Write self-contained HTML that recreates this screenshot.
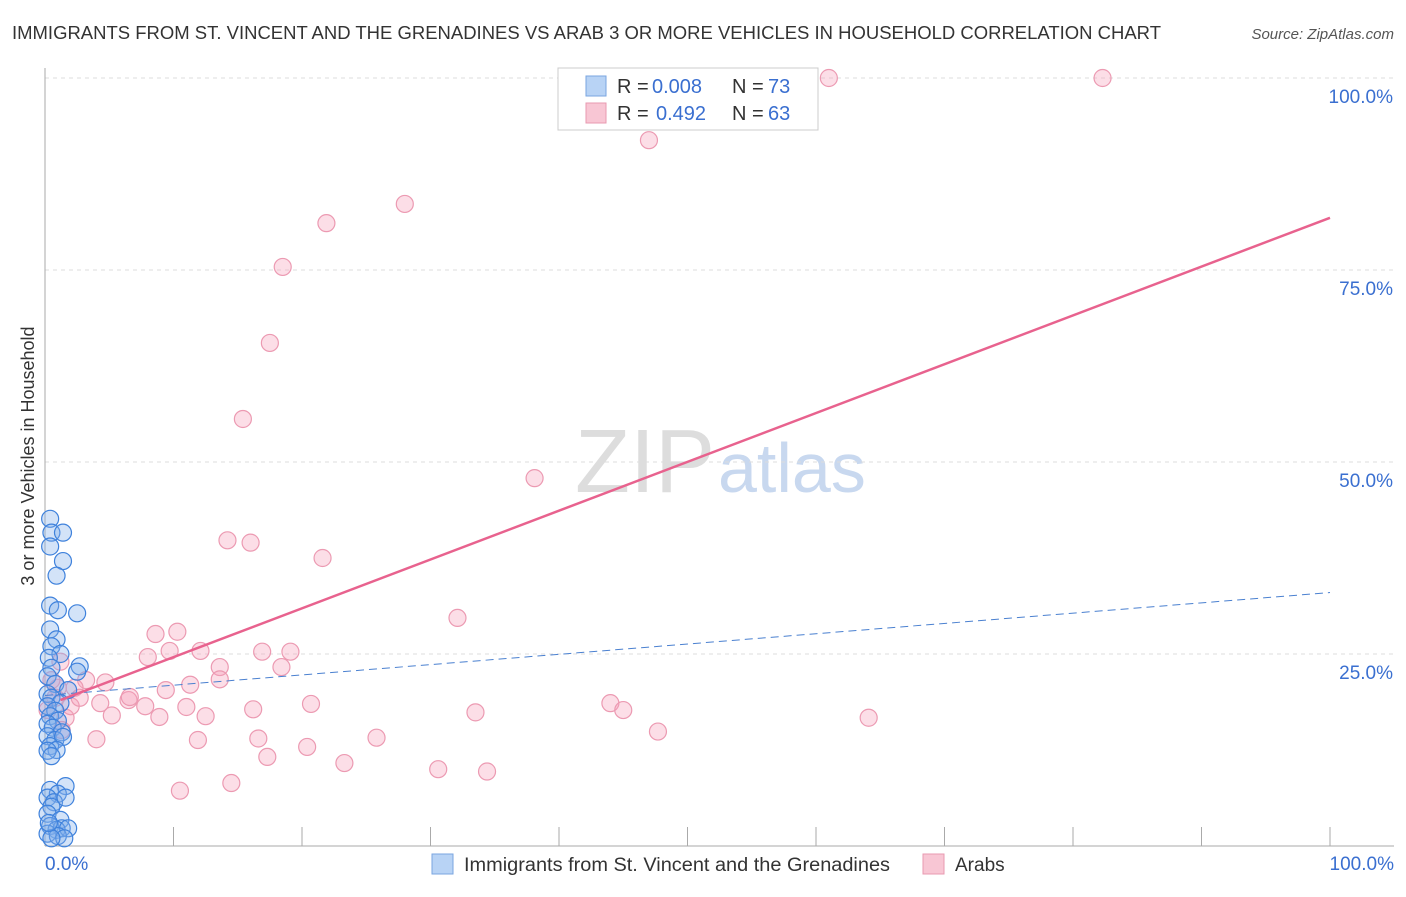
<!DOCTYPE html>
<html><head><meta charset="utf-8"><style>
body{margin:0;background:#fff;font-family:"Liberation Sans",sans-serif}
svg text{font-family:"Liberation Sans",sans-serif}
</style></head><body>
<svg id="c" width="1406" height="892" xmlns="http://www.w3.org/2000/svg">
<text x="12" y="39" font-size="18" fill="#333" textLength="1149" lengthAdjust="spacingAndGlyphs">IMMIGRANTS FROM ST. VINCENT AND THE GRENADINES VS ARAB 3 OR MORE VEHICLES IN HOUSEHOLD CORRELATION CHART</text>
<text x="1394" y="39" font-size="15" fill="#555" font-style="italic" text-anchor="end">Source: ZipAtlas.com</text>
<text x="34" y="456" font-size="18" fill="#333" text-anchor="middle" transform="rotate(-90 34 456)">3 or more Vehicles in Household</text>
<text x="715" y="492" font-size="90" fill="#ddd" text-anchor="end" font-family="Liberation Serif">ZIP</text>
<text x="718" y="492" font-size="70" fill="#c8d8ef">atlas</text>
<g id="grid"></g><g id="axes"></g><g id="pts"></g><g id="lines"></g>
<g>
<rect x="558" y="68" width="260" height="62" fill="#fff" stroke="#ccc"/>
<rect x="586" y="76" width="20" height="20" fill="#b8d3f5" stroke="#7aa6e0"/>
<text x="617" y="93" font-size="20" fill="#333">R =</text>
<text x="652" y="93" font-size="20" fill="#3a6fd0">0.008</text>
<text x="732" y="93" font-size="20" fill="#333">N =</text>
<text x="768" y="93" font-size="20" fill="#3a6fd0">73</text>
<rect x="586" y="103" width="20" height="20" fill="#f8c6d4" stroke="#e89ab0"/>
<text x="617" y="120" font-size="20" fill="#333">R =</text>
<text x="656" y="120" font-size="20" fill="#3a6fd0">0.492</text>
<text x="732" y="120" font-size="20" fill="#333">N =</text>
<text x="768" y="120" font-size="20" fill="#3a6fd0">63</text>
</g>
<g>
<rect x="432" y="854" width="21" height="20" fill="#b8d3f5" stroke="#7aa6e0"/>
<text x="464" y="871" font-size="19" fill="#333" textLength="426" lengthAdjust="spacingAndGlyphs">Immigrants from St. Vincent and the Grenadines</text>
<rect x="923" y="854" width="21" height="20" fill="#f8c6d4" stroke="#e89ab0"/>
<text x="955" y="871" font-size="19" fill="#333">Arabs</text>
</g>
</svg>
<script>
const yTicks=[25,50,75,100];
const yTickLabels=["25.0%","50.0%","75.0%","100.0%"];
const xTickLabels=["0.0%","100.0%"];
const pinkX=[61.0,82.3,47.0,28.0,21.9,18.5,17.5,15.4,38.1,14.2,16.0,21.6,32.1,10.3,8.6,8.0,9.7,12.1,16.9,19.1,13.6,18.4,13.6,11.3,9.4,20.7,6.5,4.7,3.2,6.6,7.8,4.3,16.2,11.0,12.5,8.9,5.2,33.5,44.0,45.0,47.7,64.1,16.6,11.9,4.0,25.8,17.3,23.3,20.4,30.6,34.4,14.5,10.5,1.2,1.0,0.8,1.6,0.5,2.0,1.3,0.2,2.3,2.7];
const pinkY=[100,100,91.9,83.6,81.1,75.4,65.5,55.6,47.9,39.8,39.5,37.5,29.7,27.9,27.6,24.6,25.4,25.4,25.3,25.3,23.3,23.3,21.7,21.0,20.3,18.5,19.0,21.3,21.6,19.4,18.2,18.6,17.8,18.1,16.9,16.8,17.0,17.4,18.6,17.7,14.9,16.7,14.0,13.8,13.9,14.1,11.6,10.8,12.9,10.0,9.7,8.2,7.2,24.0,20.6,19.3,16.7,21.6,18.2,15.1,17.7,20.6,19.3];
const blueX=[0.4,0.5,1.4,0.4,1.4,0.9,0.4,1.0,2.5,0.4,0.9,0.5,1.2,0.3,2.7,0.5,2.5,0.2,0.8,1.8,0.2,0.5,1.2,0.2,0.8,0.4,1.0,0.2,0.6,1.3,0.2,0.8,1.4,0.4,0.9,0.2,0.5,1.6,0.4,1.0,0.2,0.7,1.6,0.5,0.2,1.2,0.4,1.3,0.9,1.8,0.2,1.0,1.5,0.5,0.3];
const blueY=[42.6,40.8,40.8,39.0,37.1,35.2,31.3,30.7,30.3,28.2,26.9,26.0,25.0,24.5,23.4,23.2,22.7,22.1,21.1,20.3,19.8,19.3,18.6,18.2,17.6,16.9,16.3,15.9,15.4,14.8,14.3,13.8,14.2,13.0,12.5,12.4,11.7,7.8,7.3,6.8,6.3,5.7,6.3,5.1,4.2,3.4,2.6,2.3,2.1,2.3,1.6,1.3,1.0,1.0,3.0];
const pinkTrend=[1.2,19.0,100,81.8];
const blueTrend=[0,19.6,100,33.0];
const NS="http://www.w3.org/2000/svg";
const sx=v=>45+v*12.85, sy=v=>846-v*7.68;
function mk(p,t,a){const e=document.createElementNS(NS,t);for(const k in a)e.setAttribute(k,a[k]);document.getElementById(p).appendChild(e);return e;}
yTicks.forEach((t,i)=>{
 const g=mk('grid','line',{x1:45,x2:1394,y1:sy(t),y2:sy(t),stroke:'#ddd','stroke-dasharray':'4 4'});
 
 
 const l=mk('grid','text',{x:1393,y:sy(t)+25,'font-size':19,fill:'#3a6fd0','text-anchor':'end'});l.textContent=yTickLabels[i];
 
 
});
const ax=mk('axes','line',{x1:45,x2:45,y1:68,y2:846,stroke:'#aaa'});


const bx=mk('axes','line',{x1:45,x2:1394,y1:846,y2:846,stroke:'#aaa'});


for(let i=0;i<=10;i++){const t=mk('axes','line',{x1:sx(i*10),x2:sx(i*10),y1:827,y2:846,stroke:'#aaa'});
 
 }
[[0,'start',45],[100,'end',1394]].forEach((d,i)=>{const t=mk('axes','text',{x:d[2],y:870,'font-size':19,fill:'#3a6fd0','text-anchor':d[1]});t.textContent=xTickLabels[i];
 
 });
pinkX.forEach((x,i)=>{const c=mk('pts','circle',{cx:sx(x),cy:sy(pinkY[i]),r:8.5,fill:'rgba(245,160,185,0.35)',stroke:'#ec9ab2','stroke-width':1.2});
 
 });
blueX.forEach((x,i)=>{const c=mk('pts','circle',{cx:sx(x),cy:sy(blueY[i]),r:8.5,fill:'rgba(130,175,235,0.35)',stroke:'#3f82dc','stroke-width':1.2});
 
 });
const bl=mk('lines','line',{x1:sx(blueTrend[0]),y1:sy(blueTrend[1]),x2:sx(blueTrend[2]),y2:sy(blueTrend[3]),stroke:'#4a80d0','stroke-width':1,'stroke-dasharray':'8 5'});


const pl=mk('lines','line',{x1:sx(pinkTrend[0]),y1:sy(pinkTrend[1]),x2:sx(pinkTrend[2]),y2:sy(pinkTrend[3]),stroke:'#e8628e','stroke-width':2.5});


</script>
</body></html>
